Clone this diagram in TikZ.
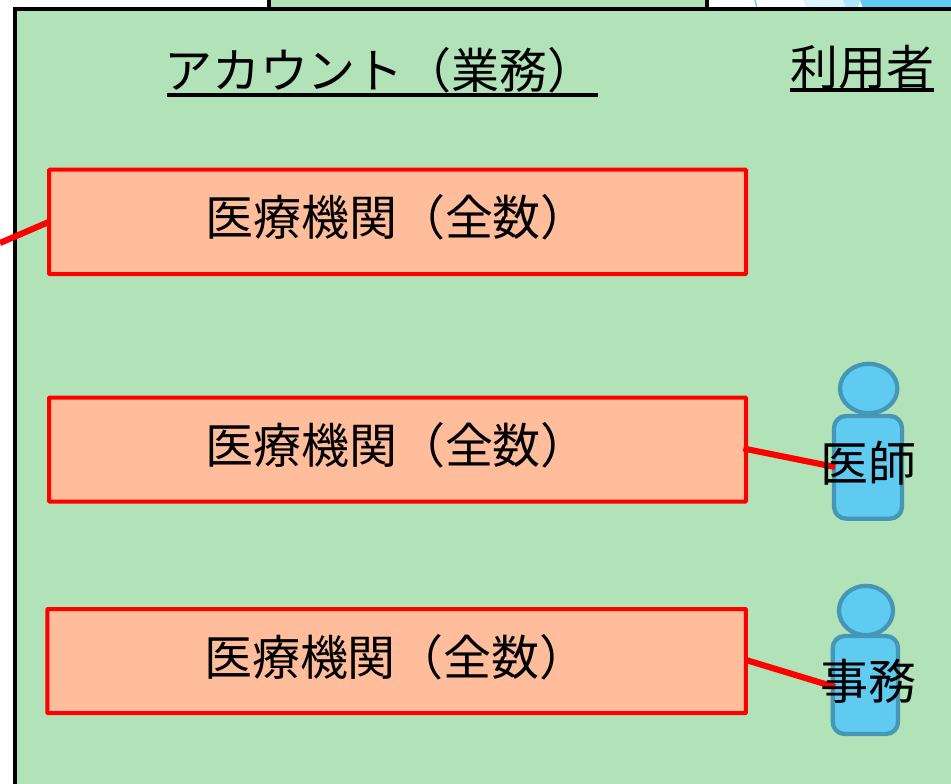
\documentclass[tikz,border=0pt]{standalone}
\usepackage{fontspec}
\setmainfont{Noto Sans CJK JP}[Scale=1]
\definecolor{panelgreen}{HTML}{B2E2B8}
\definecolor{boxorange}{HTML}{FFBD9C}
\definecolor{personblue}{HTML}{5FCBF1}
\definecolor{personedge}{HTML}{4696B6}
\usetikzlibrary{shapes.geometric}
\tikzset{
  x=0.75pt,y=-0.75pt,
  panel/.style={draw=black,line width=2.6pt,fill=panelgreen},
  orgbox/.style={draw=red,line width=3pt,fill=boxorange,rounded corners=0.5pt,anchor=north west,inner sep=0pt,outer sep=0pt},
  orgtext/.style={font=\fontsize{36}{40}\selectfont,inner sep=0pt},
  body/.style={draw=personedge,line width=3.2pt,fill=personblue,rounded corners=9pt,anchor=north west,inner sep=0pt,outer sep=0pt},
  head/.style={draw=personedge,line width=3.2pt,fill=personblue,ellipse,inner sep=0pt,outer sep=0pt},
  personlabel/.style={font=\fontsize{36}{40}\selectfont,inner sep=0pt},
  heading/.style={font=\fontsize{36}{40}\selectfont,inner sep=0pt},
  link/.style={draw=red,line width=4.6pt},
  underl/.style={draw=black,line width=2.4pt},
}
\begin{document}
\begin{tikzpicture}
\useasboundingbox (0,0) rectangle (951,783);
\fill[white] (0,0) rectangle (951,783);
% top strip
\fill[personblue!22!white] (803,0) -- (843,0) -- (846,8) -- (806,8) -- cycle;
\fill[personblue!50!white] (843,0) -- (860,0) -- (858,8) -- (846,8) -- cycle;
\fill[personblue] (860,0) -- (951,0) -- (951,8) -- (863,8) -- cycle;
\draw[personblue,line width=1pt] (755,0) -- (757,8);
\draw[panel] (269,-5) rectangle (707,9);
% panel
\draw[panel] (15,9) rectangle (1000,800);
\coordinate (offleft) at (0,243);
% rows
\node[orgbox,minimum width=522.75pt,minimum height=78.25pt] (org1) at (49,169.7) {};
\node[orgbox,minimum width=522.75pt,minimum height=78pt] (org2) at (49,397.5) {};
\node[orgbox,minimum width=524pt,minimum height=78pt] (org3) at (47.3,609) {};
\node[orgtext] (t1) at (397,217) {医療機関（全数）};
\node[orgtext] (t2) at (397,445) {医療機関（全数）};
\node[orgtext] (t3) at (396,657) {医療機関（全数）};
% persons
\node[body,minimum width=51pt,minimum height=77pt] (b1) at (834,416) {};
\node[head,minimum width=43pt,minimum height=37pt] (h1) at (868.7,388.5) {};
\node[body,minimum width=49pt,minimum height=73.5pt] (b2) at (832.7,636) {};
\node[head,minimum width=40.5pt,minimum height=37pt] (h2) at (866,610.5) {};
\coordinate (p1) at (835,467);
\coordinate (p2) at (835,687);
\draw[link] (offleft) -- (org1.west);
\draw[link,shorten <=-2pt] (org2.east |- 0,449) -- (p1);
\draw[link] (org3.east |- 0,660) -- (p2);
\node[personlabel] (l1) at (868,463) {医師};
\node[personlabel] (l2) at (868,681) {事務};
% headings
\node[heading] (h-acc) at (380,70) {アカウント（業務）};
\node[heading] (h-user) at (862,67) {利用者};
\coordinate (ua) at (167,95); \coordinate (ub) at (598,95);
\coordinate (uc) at (790,90); \coordinate (ud) at (934,90);
\draw[underl] (ua) -- (ub);
\draw[underl] (uc) -- (ud);
\end{tikzpicture}
\end{document}
